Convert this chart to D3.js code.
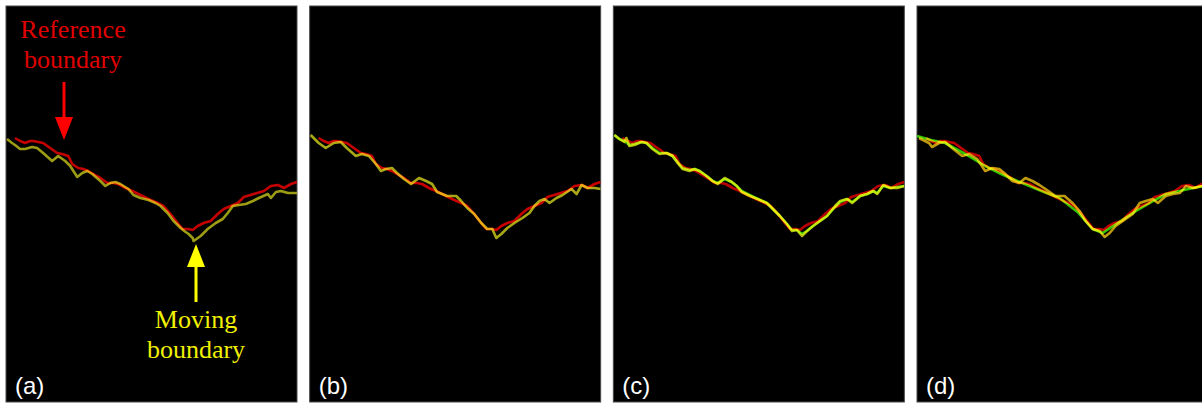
<!DOCTYPE html>
<html>
<head>
<meta charset="utf-8">
<script src="https://cdn.jsdelivr.net/npm/d3@7"></script>
<style>
  html, body { margin: 0; padding: 0; background: #fff; }
  svg { display: block; }
  .serif { font-family: "Liberation Serif", "DejaVu Serif", "Noto Serif", serif; }
  .sans { font-family: "Liberation Sans", Arial, sans-serif; }
</style>
</head>
<body>
<svg id="chart" width="1202" height="405"></svg>
<script>
// panel labels
const panels = ['(a)', '(b)', '(c)', '(d)'];

// boundary traces, [column, row] in image pixels of each panel
const reference = [[9,132],[14,135],[19,137],[24,135],[27,135],[32,136],[37,137],[44,142],[51,147],[56,148],[62,150],[66,158],[72,162],[77,163],[82,165],[87,168],[94,172],[101,177],[107,177],[112,178],[119,182],[126,185],[134,189],[142,193],[151,197],[157,200],[164,208],[171,217],[176,223],[182,223],[186,224],[191,220],[197,217],[204,215],[211,208],[217,203],[224,200],[231,197],[237,191],[247,188],[257,185],[264,180],[271,179],[277,182],[284,178],[290,176]];

const movingA = [[1,133],[6,137],[9,139],[14,143],[19,143],[26,141],[31,142],[37,147],[46,155],[52,150],[59,155],[64,160],[71,171],[76,167],[81,165],[86,168],[94,175],[99,180],[104,177],[109,176],[114,178],[122,183],[127,189],[134,192],[142,194],[149,197],[154,200],[161,207],[167,215],[174,222],[179,226],[182,228],[186,232],[187,235],[194,230],[201,223],[209,217],[216,213],[221,207],[226,200],[232,199],[239,198],[246,195],[252,192],[261,188],[264,192],[269,186],[274,185],[281,187],[290,187]];

const movingB = [[1,129],[9,137],[16,142],[24,137],[31,136],[37,142],[46,150],[52,148],[59,150],[66,158],[71,165],[76,163],[82,162],[87,167],[94,173],[101,178],[109,172],[116,175],[122,178],[127,186],[137,190],[146,190],[151,195],[157,202],[164,208],[171,217],[177,223],[182,223],[186,232],[191,228],[197,222],[204,217],[212,212],[219,207],[224,200],[229,195],[234,193],[239,197],[246,192],[252,189],[261,183],[266,188],[271,179],[277,182],[284,182],[290,183]];

const movingC = [[1,129],[6,133],[11,136],[13,132],[16,140],[21,139],[28,136],[33,137],[39,143],[46,148],[53,147],[59,150],[64,157],[69,163],[76,165],[81,163],[86,165],[93,170],[99,175],[104,178],[111,172],[118,176],[123,180],[128,186],[136,190],[144,193],[153,197],[159,203],[166,210],[173,218],[178,225],[183,224],[188,230],[193,225],[199,220],[206,215],[213,210],[221,200],[226,195],[233,193],[238,197],[246,190],[253,188],[259,185],[263,188],[269,179],[276,182],[283,182],[290,180]];

const fittedC = [[1,129],[6,133],[11,135],[16,139],[21,138],[28,136],[33,137],[39,142],[46,147],[53,147],[59,150],[64,156],[69,162],[76,164],[81,163],[86,165],[93,170],[99,175],[104,177],[111,173],[118,176],[123,180],[128,185],[136,189],[144,193],[153,197],[159,203],[166,210],[173,218],[178,224],[183,224],[188,228],[193,225],[199,220],[206,215],[213,210],[221,201],[226,196],[233,193],[238,196],[246,190],[253,188],[259,185],[263,187],[269,180],[276,182],[283,181],[290,180]];

const movingD = [[2,132],[12,137],[15,141],[22,137],[28,136],[35,142],[45,150],[52,148],[60,153],[68,165],[75,162],[82,163],[87,167],[95,175],[102,177],[108,172],[115,175],[122,179],[128,183],[138,190],[147,190],[155,197],[162,205],[168,215],[175,223],[182,225],[187,231],[192,227],[198,220],[208,213],[215,208],[222,197],[228,195],[235,193],[240,197],[248,190],[255,188],[262,187],[268,180],[275,182],[285,180]];

const fittedD = [[0,130],[14,134],[28,137],[48,148],[68,160],[86,169],[105,177],[124,185],[142,192],[160,206],[175,223],[185,227],[200,217],[215,207],[232,197],[248,188],[266,184],[285,180]];

const layers = [
  [{ data: reference, color: '#c40000' }, { data: movingA, color: '#9c9c12' }],
  [{ data: reference, color: '#c80000' }, { data: movingB, color: '#a8a818' }],
  [{ data: reference, color: '#b80000' }, { data: movingC, color: '#b0b010' }, { data: fittedC, color: '#2fb800' }],
  [{ data: reference, color: '#c00000' }, { data: movingD, color: '#c09a10' }, { data: fittedD, color: '#34c400' }]
];

const svg = d3.select('#chart');
const panelW = 291, panelH = 396, panelTop = 6;

const band = d3.scaleBand().domain(panels).range([6, 1208]).paddingInner(0.0417);
const x = d3.scaleLinear().domain([0, 290]).range([0, panelW]);
const y = d3.scaleLinear().domain([0, 396]).range([0, panelH]);

const defs = svg.append('defs');
defs.append('filter').attr('id', 'soft')
  .append('feGaussianBlur').attr('stdDeviation', 0.7);

const line = d3.line().x(d => x(d[0])).y(d => y(d[1]));

panels.forEach((p, i) => {
  const g = svg.append('g').attr('transform', `translate(${band(p)},${panelTop})`);
  g.append('clipPath').attr('id', 'clip' + i)
    .append('rect').attr('width', panelW).attr('height', panelH);
  g.append('rect')
    .attr('width', panelW).attr('height', panelH)
    .attr('fill', '#000').attr('stroke', '#4a4a4a').attr('stroke-width', 1);
  const lines = g.append('g').attr('clip-path', `url(#clip${i})`).attr('filter', 'url(#soft)');
  layers[i].forEach(l => {
    lines.append('path')
      .attr('d', line(l.data))
      .attr('fill', 'none')
      .attr('stroke', l.color)
      .attr('stroke-width', 2.6)
      .attr('stroke-linejoin', 'round')
      .style('mix-blend-mode', 'screen');
  });
  g.append('text')
    .attr('class', 'sans')
    .attr('x', 9).attr('y', 388)
    .attr('fill', '#fff')
    .attr('font-size', 24)
    .text(p);
});

// annotations in panel (a)
const ga = svg.append('g').attr('transform', `translate(${band('(a)')},${panelTop})`);

ga.selectAll('text.ref').data(['Reference', 'boundary']).join('text')
  .attr('class', 'serif')
  .attr('x', 67).attr('y', (d, i) => 32 + i * 30)
  .attr('text-anchor', 'middle')
  .attr('fill', '#e00000')
  .attr('font-size', 26)
  .text(d => d);

ga.selectAll('text.mov').data(['Moving', 'boundary']).join('text')
  .attr('class', 'serif')
  .attr('x', 190).attr('y', (d, i) => 322 + i * 30)
  .attr('text-anchor', 'middle')
  .attr('fill', '#f0f000')
  .attr('font-size', 26)
  .text(d => d);

// red arrow pointing down
ga.append('line').attr('x1', 58).attr('x2', 58).attr('y1', 76).attr('y2', 114)
  .attr('stroke', '#ff0000').attr('stroke-width', 3);
ga.append('path').attr('d', 'M49,111 L67,111 L58,134 Z').attr('fill', '#ff0000');

// yellow arrow pointing up
ga.append('line').attr('x1', 190).attr('x2', 190).attr('y1', 258).attr('y2', 296)
  .attr('stroke', '#ffff00').attr('stroke-width', 3);
ga.append('path').attr('d', 'M181,261 L199,261 L190,238 Z').attr('fill', '#ffff00');
</script>
</body>
</html>
